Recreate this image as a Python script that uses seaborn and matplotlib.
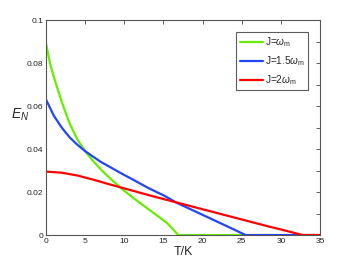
import numpy as np
import pandas as pd
import matplotlib
matplotlib.use("Agg")
import matplotlib.pyplot as plt
import seaborn as sns
from matplotlib.ticker import MultipleLocator

sns.set_style("white")
plt.rcParams['font.family'] = ['Liberation Sans', 'DejaVu Sans']
plt.rcParams['mathtext.fontset'] = 'custom'
plt.rcParams['mathtext.rm'] = 'Liberation Sans'
plt.rcParams['mathtext.it'] = 'Liberation Sans:italic'

T_green = [0, 0.5, 1, 2, 3, 4, 5, 6, 7, 8, 9.45, 11, 12.5, 14, 15.5, 16.9, 35]
E_green = [0.089, 0.080, 0.0735, 0.062, 0.052, 0.0445, 0.039, 0.0345, 0.0305, 0.027,
           0.0222, 0.0177, 0.0136, 0.0096, 0.0055, 0.0, 0.0]
T_blue = [0, 1, 2, 3, 4, 5, 6, 7, 8, 9.45, 11, 13, 15, 16.7, 19, 21, 23, 25.5, 35]
E_blue = [0.063, 0.0555, 0.050, 0.0455, 0.042, 0.039, 0.0365, 0.034, 0.032, 0.029,
          0.026, 0.022, 0.0185, 0.015, 0.0111, 0.0077, 0.0043, 0.0, 0.0]
T_red = [0, 2, 4, 6, 8, 10, 12, 14, 16, 18, 20, 22, 24, 26, 28, 30, 32.8, 35]
E_red = [0.0295, 0.029, 0.0277, 0.0258, 0.0237, 0.0217, 0.0197, 0.0177, 0.0158,
         0.0139, 0.0120, 0.0101, 0.0082, 0.0063, 0.0044, 0.0026, 0.0, 0.0]
labels = [r'J=$\omega_{\mathrm{m}}$', r'J=1.5$\omega_{\mathrm{m}}$', r'J=2$\omega_{\mathrm{m}}$']
colors = ['#66ee00', '#2244ff', '#ff0000']

fig = plt.figure(figsize=(3.54, 2.65), dpi=100)
ax = fig.add_axes([0.130, 0.113, 0.774, 0.8115])

for T, E, lab, c in zip([T_green, T_blue, T_red], [E_green, E_blue, E_red], labels, colors):
    df = pd.DataFrame({'T': T, 'E': E})
    sns.lineplot(data=df, x='T', y='E', ax=ax, color=c, lw=1.6, label=lab)

ax.set_xlim(0, 35)
ax.set_ylim(0, 0.1)
ax.xaxis.set_major_locator(MultipleLocator(5))
ax.yaxis.set_minor_locator(MultipleLocator(0.01))
ax.set_yticks([0, 0.02, 0.04, 0.06, 0.08, 0.1])
ax.set_yticklabels(['0', '0.02', '0.04', '0.06', '0.08', '0.1'])
ax.tick_params(which='both', direction='in', top=True, right=True, labelsize=6,
               colors='#444444', length=3, width=0.6, pad=2)
ax.tick_params(axis='both', labelcolor='#222222')
for s in ax.spines.values():
    s.set_color('#555555')
    s.set_linewidth(0.8)
ax.set_xlabel('T/K', fontsize=9, labelpad=1)
ax.set_ylabel(r'$E_N$', fontsize=10, rotation=0)
ax.yaxis.set_label_coords(-0.095, 0.52)

leg = ax.legend(loc='upper right', bbox_to_anchor=(0.956, 0.944), fontsize=7.2,
                frameon=True, fancybox=False, edgecolor='#333333',
                handlelength=2.3, handletextpad=0.2, labelspacing=0.5,
                borderpad=0.35, borderaxespad=0)
leg.get_frame().set_linewidth(0.8)

fig.savefig('out.png', dpi=100)
